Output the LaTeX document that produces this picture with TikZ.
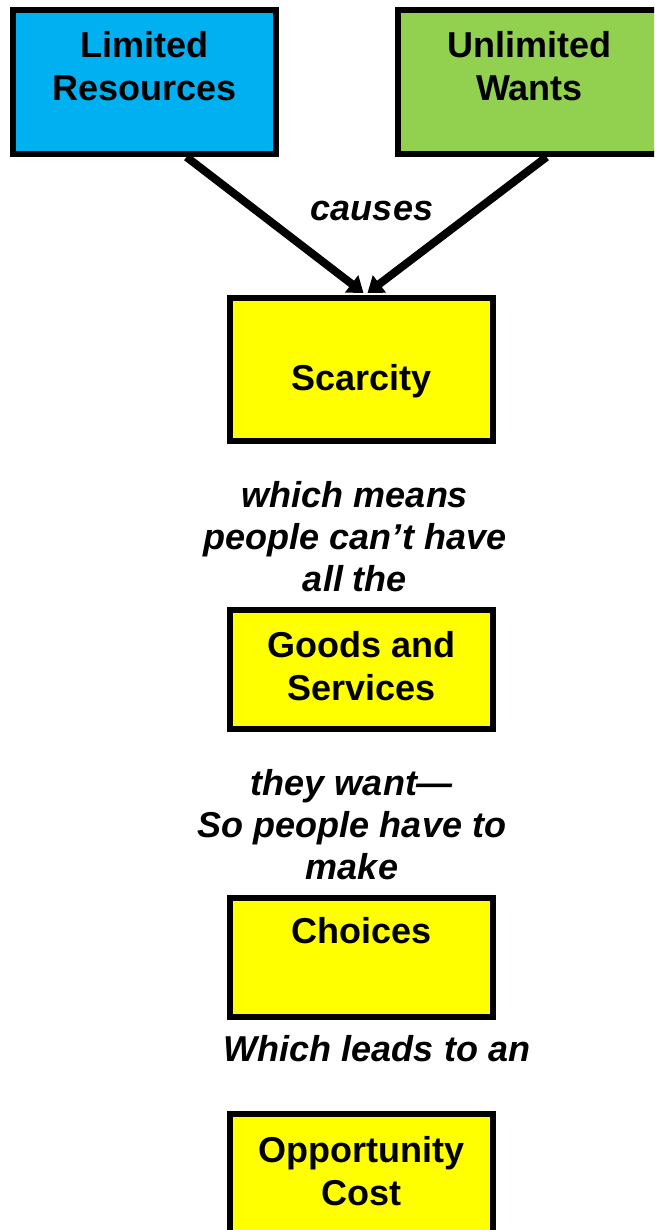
\documentclass[tikz,border=0pt]{standalone}
\usepackage{fontspec}
\setmainfont{Liberation Sans}
\usepackage{tikz}
\usetikzlibrary{arrows.meta, positioning}
\definecolor{azzurro}{HTML}{00B0F0}
\definecolor{verde}{HTML}{92D050}
\definecolor{giallo}{HTML}{FFFF00}

\begin{document}
\begin{tikzpicture}[x = 1pt, y = -1pt,
    scatola/.style = {draw = black, line width = 6pt, minimum width = 263pt, inner sep = 0pt},
    titolo/.style = {font = \fontsize{36}{43}\selectfont\bfseries, align = center, inner sep = 0pt},
    commento/.style = {font = \fontsize{36}{42}\selectfont\bfseries\itshape, align = center, inner sep = 0pt},
    freccia/.style = {line width = 8pt, -{Triangle[length = 15pt, width = 21pt]}}]
    % Cornice
    \useasboundingbox (0,0) rectangle (654,1230);
    \clip (0,0) rectangle (654,1230);
    % Scatole in alto
    \node[scatola, fill = azzurro, minimum height = 144pt] (risorse) at (144.5,82) {};
    \node[titolo, anchor = north] (risorseT) at (144.5,31) {Limited\\Resources};
    \node[scatola, fill = verde, minimum height = 144pt] (desideri) at (529.5,82) {};
    \node[titolo, anchor = north] (desideriT) at (529.5,31) {Unlimited\\Wants};
    % Catena
    \node[scatola, fill = giallo, minimum height = 143pt] (scarsita) at (361.5,369.5) {};
    \node[titolo, anchor = base] (scarsitaT) at (361.5,390) {Scarcity};
    \node[scatola, fill = giallo, minimum height = 119pt] (beni) at (361.5,669.5) {};
    \node[titolo, anchor = north] (beniT) at (361.5,631) {Goods and\\Services};
    \node[scatola, fill = giallo, minimum height = 119pt] (scelte) at (361.5,957.5) {};
    \node[titolo, anchor = base] (scelteT) at (361.5,943) {Choices};
    \node[scatola, fill = giallo, minimum height = 140pt] (costo) at (361.5,1184) {};
    \node[titolo, anchor = north] (costoT) at (361.5,1136) {Opportunity\\Cost};
    % Frecce
    \draw[freccia] ([xshift = 42pt]risorse.south) -- ([xshift = 2pt, yshift = 2pt]scarsita.north);
    \draw[freccia] ([xshift = 17pt]desideri.south) -- ([xshift = 6pt, yshift = 2pt]scarsita.north);
    % Testi
    \node[commento, anchor = base] (causa) at (372,221) {causes};
    \node[commento, anchor = north] (quindi) at (355,481) {which means\\people can’t have\\all the};
    \node[commento, anchor = north] (vogliono) at (352,769) {they want—\\So people have to\\make};
    \node[commento, anchor = base] (porta) at (377,1061) {Which leads to an};
\end{tikzpicture}
\end{document}
